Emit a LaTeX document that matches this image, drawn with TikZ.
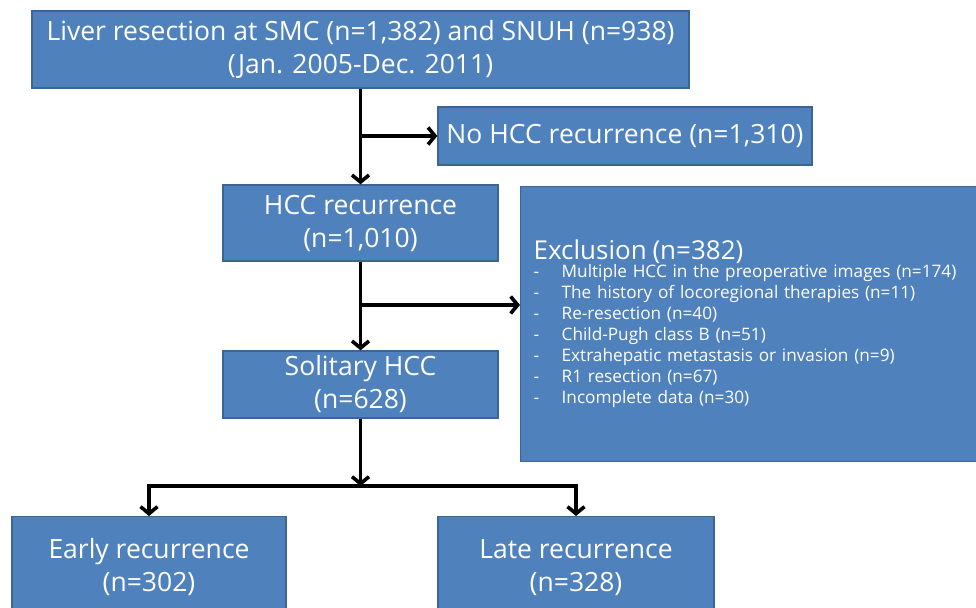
\documentclass[tikz,border=0pt]{standalone}
\usepackage{fontspec}
\setmainfont{Open Sans}
\usetikzlibrary{arrows, arrows.meta, positioning, calc}

\definecolor{boxblue}{HTML}{4F81BD}
\definecolor{boxline}{HTML}{3B6592}

\newcommand{\exitem}[1]{\makebox[28pt][l]{-}#1}

\tikzset
{
box/.style={draw=boxline, fill=boxblue, line width=1.3pt, text=white, align=center,
	font=\fontsize{26.5}{33}\selectfont, inner sep=0pt},
flow/.style={-{Straight Barb[length=7pt, width=17pt]}, line width=3.6pt, black}
}

\begin{document}
\begin{tikzpicture}[x=1pt, y=-1pt]
	\useasboundingbox (0,0) rectangle (976,607);
	\clip (0,0) rectangle (976,607);

	% main column
	\node[box, minimum width=657pt, minimum height=77pt] (liver) at (360.5,49.5)
		{Liver resection at SMC (n=1,382) and SNUH (n=938)\\(Jan. 2005-Dec. 2011)};
	\node[box, minimum width=275pt, minimum height=76pt] (hcc) at (360.5,223)
		{HCC recurrence\\(n=1,010)};
	\node[box, minimum width=275pt, minimum height=67pt] (solitary) at (360.5,384.5)
		{Solitary HCC\\(n=628)};

	% side boxes
	\node[box, minimum width=374pt, minimum height=58pt] (nohcc) at (625,136)
		{No HCC recurrence (n=1,310)};
	\node[box, anchor=north west, minimum width=470pt, minimum height=275pt,
		text width=444pt, inner xsep=13pt, align=left,
		font=\fontsize{17.2}{21}\selectfont] (excl) at (520,186)
		{{\fontsize{26}{30}\selectfont Exclusion (n=382)}\\[-3pt]
		\exitem{Multiple HCC in the preoperative images (n=174)}\\
		\exitem{The history of locoregional therapies (n=11)}\\
		\exitem{Re-resection (n=40)}\\
		\exitem{Child-Pugh class B (n=51)}\\
		\exitem{Extrahepatic metastasis or invasion (n=9)}\\
		\exitem{R1 resection (n=67)}\\
		\exitem{Incomplete data (n=30)}};

	% outcome boxes
	\node[box, anchor=north, minimum width=274pt, minimum height=101pt] (early) at (149,516)
		{Early recurrence\\(n=302)};
	\node[box, anchor=north, minimum width=276pt, minimum height=101pt] (late) at (576,516)
		{Late recurrence\\(n=328)};

	\coordinate (exclin) at (520,305);
	\coordinate (split) at (360.5,486);

	\draw[flow] (liver.south) -- (hcc.north);
	\draw[flow] (liver.south |- nohcc.west) -- (nohcc.west);
	\draw[flow] (hcc.south) -- (solitary.north);
	\draw[flow] (hcc.south |- exclin) -- (exclin);
	\draw[flow] (solitary.south) -- (split);
	\draw[flow] (split) -| (early.north);
	\draw[flow] (split) -| (late.north);
\end{tikzpicture}
\end{document}
